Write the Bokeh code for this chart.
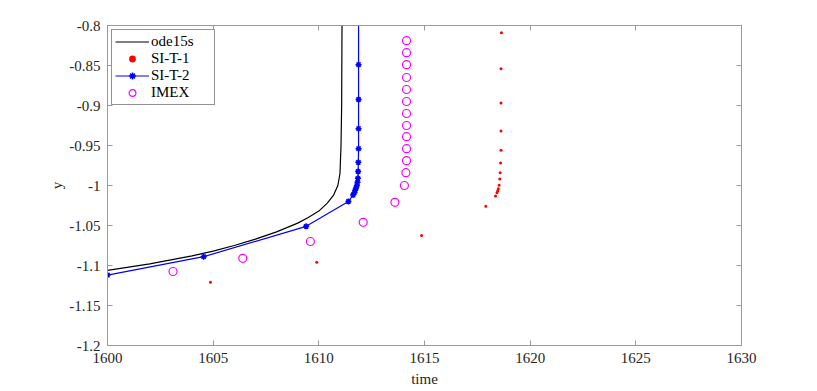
from bokeh.plotting import figure
from bokeh.models import Range1d, LinearAxis, FixedTicker, CustomJSTickFormatter, Legend
from bokeh.embed import file_html
from bokeh.resources import INLINE

# ode15s reference solution
ode_t = [1600.0, 1602.0, 1604.0, 1605.0, 1606.0, 1607.0, 1608.0, 1609.0, 1609.5, 1610.0,
         1610.4, 1610.7, 1610.9, 1611.0, 1611.05, 1611.08, 1611.1]
ode_y = [-1.106, -1.098, -1.088, -1.082, -1.075, -1.067, -1.058, -1.047, -1.040, -1.032,
         -1.022, -1.012, -1.000, -0.985, -0.95, -0.90, -0.78]

# SI-T-1
si1_t = [1604.87, 1609.9, 1614.86, 1617.9, 1618.36, 1618.43, 1618.46, 1618.49, 1618.53,
         1618.56, 1618.58, 1618.6, 1618.62, 1618.62, 1618.62, 1618.62, 1618.64, 1618.64]
si1_y = [-1.121, -1.096, -1.0625, -1.026, -1.013, -1.009, -1.007, -1.004, -0.9996,
         -0.992, -0.984, -0.972, -0.956, -0.932, -0.897, -0.854, -0.809, -0.78]

# SI-T-2
si2_t = [1600.0, 1604.55, 1609.4, 1611.4, 1611.62, 1611.68, 1611.72, 1611.76, 1611.8,
         1611.83, 1611.85, 1611.86, 1611.87, 1611.88, 1611.88, 1611.88, 1611.88, 1611.88]
si2_y = [-1.112, -1.089, -1.051, -1.020, -1.012, -1.009, -1.006, -1.003, -1.000,
         -0.996, -0.991, -0.9825, -0.971, -0.954, -0.929, -0.8925, -0.849, -0.76]

# IMEX
imex_t = [1603.1, 1606.4, 1609.6, 1612.1, 1613.6, 1614.05, 1614.12, 1614.15, 1614.15,
          1614.15, 1614.15, 1614.15, 1614.15, 1614.15, 1614.15, 1614.15, 1614.15, 1614.15]
imex_y = [-1.1075, -1.091, -1.07, -1.046, -1.021, -1.0, -0.984, -0.969, -0.954,
          -0.939, -0.925, -0.910, -0.895, -0.880, -0.865, -0.849, -0.834, -0.819]

x_ticks = [1600, 1605, 1610, 1615, 1620, 1625, 1630]
y_ticks = [-1.2, -1.15, -1.1, -1.05, -1.0, -0.95, -0.9, -0.85, -0.8]

FONT = "Liberation Serif"
AX = "#262626"
AXL = "#9a9a9a"

p = figure(width=817, height=391, output_backend="svg", toolbar_location=None,
           x_range=Range1d(1600, 1630), y_range=Range1d(-1.2, -0.8),
           min_border_left=107, min_border_right=76, min_border_top=25, min_border_bottom=46,
           x_axis_label="time", y_axis_label="y")
p.grid.visible = False
p.outline_line_color = AXL
p.background_fill_color = "white"
p.border_fill_color = "white"

fmt_y = CustomJSTickFormatter(code="return Number(tick.toFixed(2)).toString()")

for ax in p.xaxis:
    ax.ticker = FixedTicker(ticks=x_ticks)
for ax in p.yaxis:
    ax.ticker = FixedTicker(ticks=y_ticks)
    ax.formatter = fmt_y

for ax in list(p.xaxis) + list(p.yaxis):
    ax.major_tick_in = 5
    ax.major_tick_out = 0
    ax.minor_tick_line_color = None
    ax.axis_line_color = AXL
    ax.major_tick_line_color = AXL
    ax.major_label_text_font = FONT
    ax.major_label_text_font_size = "15px"
    ax.major_label_text_color = AX
    ax.axis_label_text_font = FONT
    ax.axis_label_text_font_size = "15px"
    ax.axis_label_text_font_style = "normal"
    ax.axis_label_text_color = AX
p.xaxis.major_label_standoff = 7
p.xaxis.axis_label_standoff = 5
p.yaxis.major_label_standoff = 7
p.yaxis.axis_label_standoff = 1

# mirrored ticks on top and right (no labels)
top = LinearAxis(ticker=FixedTicker(ticks=x_ticks), major_tick_in=5, major_tick_out=0,
                 minor_tick_line_color=None, major_label_text_font_size="1px",
                 major_label_text_color=None, major_label_standoff=0,
                 axis_line_color=AXL, major_tick_line_color=AXL)
right = LinearAxis(ticker=FixedTicker(ticks=y_ticks), major_tick_in=5, major_tick_out=0,
                   minor_tick_line_color=None, major_label_text_font_size="1px",
                   major_label_text_color=None, major_label_standoff=0,
                   axis_line_color=AXL, major_tick_line_color=AXL)
p.add_layout(top, "above")
p.add_layout(right, "right")

r_ode = p.line(ode_t, ode_y, line_color="black", line_width=1.2)
r_si1 = p.scatter(si1_t, si1_y, marker="circle", size=3, fill_color="#ff0000",
                  line_color=None)
r_si2l = p.line(si2_t, si2_y, line_color="#0000ff", line_width=1.2)
r_si2m = p.scatter(si2_t, si2_y, marker="asterisk", size=6, line_color="#0000ff", line_width=1.5)
r_imex = p.scatter(imex_t, imex_y, marker="circle", size=8, fill_color=None,
                   line_color="#ff00ff", line_width=1.2)

legend = Legend(items=[("ode15s", [r_ode]), ("SI-T-1", [r_si1]),
                       ("SI-T-2", [r_si2l, r_si2m]), ("IMEX", [r_imex])],
                location="top_left")
legend.margin = 4
legend.padding = 3
legend.spacing = 0
legend.label_height = 17
legend.glyph_height = 17
legend.glyph_width = 34
legend.label_standoff = 2
legend.label_width = 60
legend.label_text_font = FONT
legend.label_text_font_size = "15px"
legend.label_text_color = "black"
legend.border_line_color = AX
legend.border_line_width = 1
legend.background_fill_color = "white"
legend.background_fill_alpha = 1.0
p.add_layout(legend, "center")

open("out.html", "w").write(file_html(p, INLINE))
